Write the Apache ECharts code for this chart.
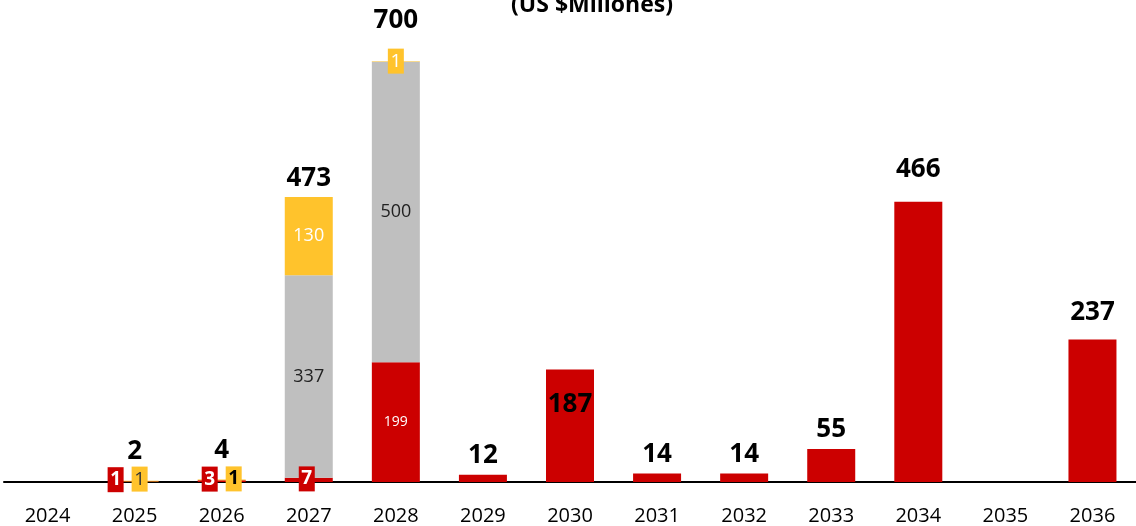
<!DOCTYPE html>
<html>
<head>
<meta charset="utf-8">
<script src="https://cdn.jsdelivr.net/npm/echarts@6/dist/echarts.min.js"></script>
<style>
  html, body { margin: 0; padding: 0; background: #fff; }
  #chart { width: 1136px; height: 526px; }
</style>
</head>
<body>
<div id="chart"></div>
<script>
// data
const years = ['2024', '2025', '2026', '2027', '2028', '2029', '2030', '2031', '2032', '2033', '2034', '2035', '2036'];
const redValues = [null, 1, 3, 7, 199, 12, 187, 14, 14, 55, 466, null, 237];
const grayValues = [null, null, null, 337, 500, null, null, null, null, null, null, null, null];
const yellowValues = [null, 1, 1, 130, 1, null, null, null, null, null, null, null, null];
const totals = [null, 2, 4, 473, 700, 12, 187, 14, 14, 55, 466, null, 237];

const RED = '#CC0000';
const GRAY = '#BFBFBF';
const YELLOW = '#FFC32C';
const FONT = "'Open Sans', sans-serif";

// little box labels sitting on the axis
function boxLabel(bg, color, bold, dx, dy) {
  return {
    show: true,
    position: 'inside',
    offset: [dx, dy],
    backgroundColor: bg,
    color: color,
    fontFamily: FONT,
    fontSize: 19,
    fontWeight: bold ? 'bold' : 'normal',
    width: 16,
    height: 25,
    lineHeight: 25,
    align: 'center',
    verticalAlign: 'middle'
  };
}

const redLabels = {
  1: boxLabel(RED, '#fff', true, -19, -2),
  2: boxLabel(RED, '#fff', true, -12, -2),
  3: boxLabel(RED, '#fff', true, -2, -1),
  4: { show: true, position: 'inside', color: '#fff', fontSize: 14, fontFamily: FONT }
};
const grayLabels = {
  3: { show: true, position: 'inside', color: '#222', fontSize: 18, fontFamily: FONT },
  4: { show: true, position: 'inside', color: '#222', fontSize: 18, fontFamily: FONT }
};
const yellowLabels = {
  1: boxLabel(YELLOW, '#333', false, 5, -2),
  2: boxLabel(YELLOW, '#000', true, 12, -1),
  3: { show: true, position: 'inside', color: '#fff', fontSize: 18, fontFamily: FONT },
  4: Object.assign(boxLabel(YELLOW, '#fff', false, 0, 0), { position: 'top', distance: 0 })
};
// total labels: default above the bar, a few nudged
const totalLabelTweaks = {
  1: { distance: 16 },
  2: { distance: 16 },
  4: { distance: 28 },
  6: { position: 'bottom', distance: 22 },
  10: { distance: 19 },
  12: { distance: 14 }
};

function buildData(values, labels) {
  return values.map((v, i) => {
    const item = { value: v };
    if (labels[i]) item.label = labels[i];
    return item;
  });
}

const chart = echarts.init(document.getElementById('chart'));

const option = {
  animation: false,
  backgroundColor: '#fff',
  title: {
    text: '(US $Millones)',
    left: 587,
    top: -11,
    textAlign: 'center',
    textStyle: { fontFamily: FONT, fontSize: 23, fontWeight: 'bold', color: '#000' }
  },
  grid: { left: 4, right: 0, top: 1, bottom: 43 },
  xAxis: {
    type: 'category',
    data: years,
    axisLine: { lineStyle: { color: '#000', width: 2 } },
    axisTick: { show: false },
    axisLabel: { color: '#000', fontFamily: FONT, fontSize: 20, margin: 24 }
  },
  yAxis: {
    type: 'value',
    min: 0,
    max: 800,
    show: false,
    splitLine: { show: false }
  },
  series: [
    {
      name: 'red',
      type: 'bar',
      stack: 'total',
      barWidth: 48,
      itemStyle: { color: RED },
      label: { show: false },
      data: buildData(redValues, redLabels)
    },
    {
      name: 'gray',
      type: 'bar',
      stack: 'total',
      barWidth: 48,
      itemStyle: { color: GRAY },
      label: { show: false },
      data: buildData(grayValues, grayLabels)
    },
    {
      name: 'yellow',
      type: 'bar',
      stack: 'total',
      barWidth: 48,
      itemStyle: { color: YELLOW },
      label: { show: false },
      data: buildData(yellowValues, yellowLabels)
    },
    {
      name: 'total',
      type: 'scatter',
      symbolSize: 0,
      silent: true,
      z: 10,
      itemStyle: { opacity: 1 },
      label: {
        show: true,
        position: 'top',
        distance: 6,
        color: '#000',
        fontFamily: FONT,
        fontSize: 26,
        fontWeight: 'bold'
      },
      data: totals.map((v, i) => {
        const item = { value: v };
        if (totalLabelTweaks[i]) item.label = totalLabelTweaks[i];
        return item;
      })
    }
  ]
};

chart.setOption(option);
</script>
</body>
</html>
